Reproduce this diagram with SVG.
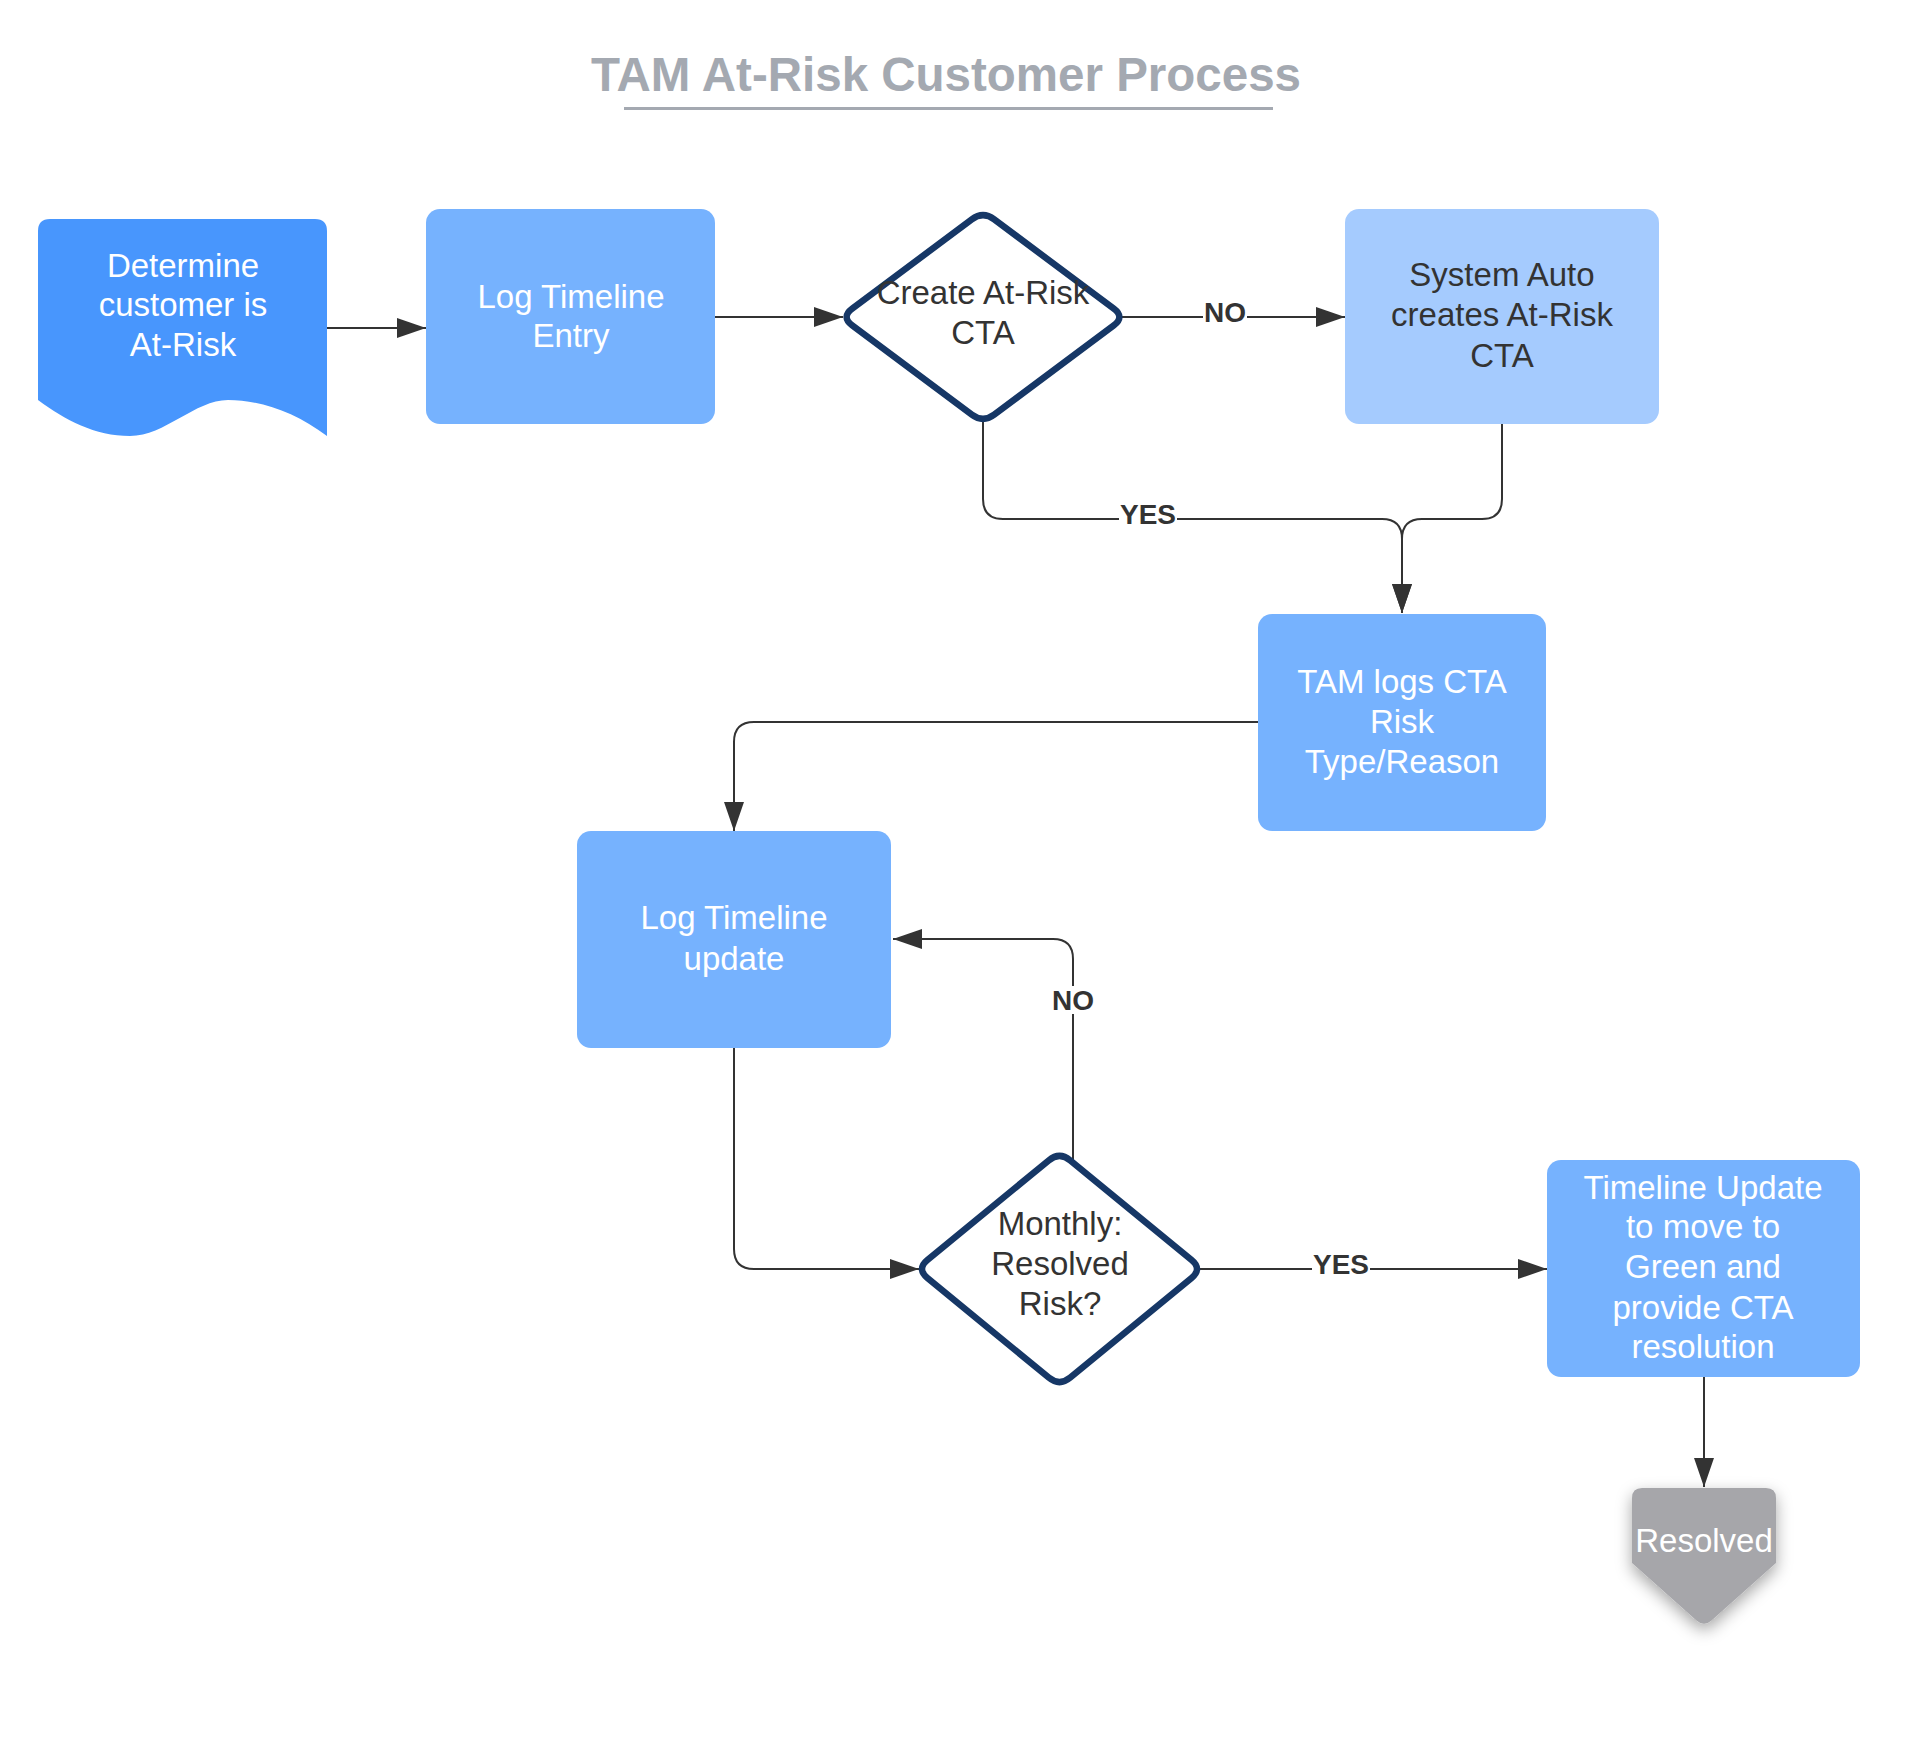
<svg xmlns="http://www.w3.org/2000/svg" width="1919" height="1737" viewBox="0 0 1919 1737">
<style>
.t{font-family:"Liberation Sans",Arial,sans-serif;font-size:33px;text-anchor:middle}
.w{fill:#ffffff}
.d{fill:#333333}
.lbl{font-family:"Liberation Sans",Arial,sans-serif;font-size:28px;font-weight:bold;text-anchor:middle;fill:#333333}
.c{fill:none;stroke:#333333;stroke-width:2}
.dia{fill:#ffffff;stroke:#163766;stroke-width:6.5;stroke-linejoin:round}
</style>
<defs>
<marker id="ah" markerUnits="userSpaceOnUse" markerWidth="30" markerHeight="20" refX="29" refY="10" orient="auto">
<path d="M0,0 L29,10 L0,20 Z" fill="#333333"/>
</marker>
<filter id="sh" x="-30%" y="-30%" width="160%" height="170%">
<feDropShadow dx="0" dy="6" stdDeviation="8" flood-color="#000000" flood-opacity="0.35"/>
</filter>
</defs>
<rect width="1919" height="1737" fill="#ffffff"/>
<g id="title">
<text x="946" y="91" font-family="Liberation Sans, Arial, sans-serif" font-size="47.5" font-weight="bold" text-anchor="middle" fill="#a4a9b1">TAM At-Risk Customer Process</text>
<rect x="624" y="107" width="649" height="3" fill="#a4a9b1"/>
</g>
<g id="connectors">
<path class="c" d="M327,328 H426" marker-end="url(#ah)"/>
<path class="c" d="M715,317 H843" marker-end="url(#ah)"/>
<path class="c" d="M1122,317 H1345" marker-end="url(#ah)"/>
<path class="c" d="M983,422 V499 Q983,519 1003,519 H1382 Q1402,519 1402,539 V613" marker-end="url(#ah)"/>
<path class="c" d="M1502,424 V499 Q1502,519 1482,519 H1422 Q1402,519 1402,539 V613" marker-end="url(#ah)"/>
<path class="c" d="M1258,722 H754 Q734,722 734,742 V831" marker-end="url(#ah)"/>
<path class="c" d="M734,1048 V1249 Q734,1269 754,1269 H919" marker-end="url(#ah)"/>
<path class="c" d="M1073,1162 V959 Q1073,939 1053,939 H893" marker-end="url(#ah)"/>
<path class="c" d="M1200,1269 H1547" marker-end="url(#ah)"/>
<path class="c" d="M1704,1377 V1487" marker-end="url(#ah)"/>
<rect x="1203" y="300" width="44" height="26" fill="#ffffff"/>
<text class="lbl" x="1225" y="322">NO</text>
<rect x="1119" y="502" width="58" height="26" fill="#ffffff"/>
<text class="lbl" x="1148" y="524">YES</text>
<rect x="1051" y="986" width="44" height="28" fill="#ffffff"/>
<text class="lbl" x="1073" y="1010">NO</text>
<rect x="1312" y="1252" width="58" height="26" fill="#ffffff"/>
<text class="lbl" x="1341" y="1274">YES</text>
</g>
<g id="n-determine">
<path d="M50,219 H315 Q327,219 327,231 V436 C295,412 260,400 228,400 C195,400 165,436 130,436 C95,436 65,420 38,400 V231 Q38,219 50,219 Z" fill="#4896fd"/>
<text class="t w" x="183" y="277">Determine</text>
<text class="t w" x="183" y="316">customer is</text>
<text class="t w" x="183" y="356">At-Risk</text>
</g>
<g id="n-log-entry">
<rect x="426" y="209" width="289" height="215" rx="14" fill="#76b2fe"/>
<text class="t w" x="571" y="308">Log Timeline</text>
<text class="t w" x="571" y="347">Entry</text>
</g>
<g id="n-create">
<path class="dia" d="M971.8,219.4 Q983,211 994.2,219.4 L1113.8,308.6 Q1125,317 1113.8,325.4 L994.2,414.6 Q983,423 971.8,414.6 L852.2,325.4 Q841,317 852.2,308.6 Z"/>
<text class="t d" x="983" y="304">Create At-Risk</text>
<text class="t d" x="983" y="344">CTA</text>
</g>
<g id="n-system">
<rect x="1345" y="209" width="314" height="215" rx="14" fill="#a5cbfe"/>
<text class="t d" x="1502" y="286">System Auto</text>
<text class="t d" x="1502" y="326">creates At-Risk</text>
<text class="t d" x="1502" y="367">CTA</text>
</g>
<g id="n-tam-logs">
<rect x="1258" y="614" width="288" height="217" rx="14" fill="#76b2fe"/>
<text class="t w" x="1402" y="693">TAM logs CTA</text>
<text class="t w" x="1402" y="733">Risk</text>
<text class="t w" x="1402" y="773">Type/Reason</text>
</g>
<g id="n-log-update">
<rect x="577" y="831" width="314" height="217" rx="14" fill="#76b2fe"/>
<text class="t w" x="734" y="929">Log Timeline</text>
<text class="t w" x="734" y="970">update</text>
</g>
<g id="n-monthly">
<path class="dia" d="M1048.7,1160.4 Q1059.5,1151.5 1070.3,1160.4 L1191.6,1260.1 Q1202.4,1269 1191.6,1277.9 L1070.3,1377.6 Q1059.5,1386.5 1048.7,1377.6 L927.4,1277.9 Q916.6,1269 927.4,1260.1 Z"/>
<text class="t d" x="1060" y="1235">Monthly:</text>
<text class="t d" x="1060" y="1275">Resolved</text>
<text class="t d" x="1060" y="1315">Risk?</text>
</g>
<g id="n-timeline-update">
<rect x="1547" y="1160" width="313" height="217" rx="14" fill="#76b2fe"/>
<text class="t w" x="1703" y="1199">Timeline Update</text>
<text class="t w" x="1703" y="1238">to move to</text>
<text class="t w" x="1703" y="1278">Green and</text>
<text class="t w" x="1703" y="1319">provide CTA</text>
<text class="t w" x="1703" y="1358">resolution</text>
</g>
<g id="n-resolved">
<path d="M1642,1488 H1766 Q1776,1488 1776,1498 V1563 L1711.5,1620.4 Q1704,1627 1696.5,1620.4 L1632,1563 V1498 Q1632,1488 1642,1488 Z" fill="#a6a6aa" filter="url(#sh)"/>
<text class="t w" x="1704" y="1552">Resolved</text>
</g>
</svg>
